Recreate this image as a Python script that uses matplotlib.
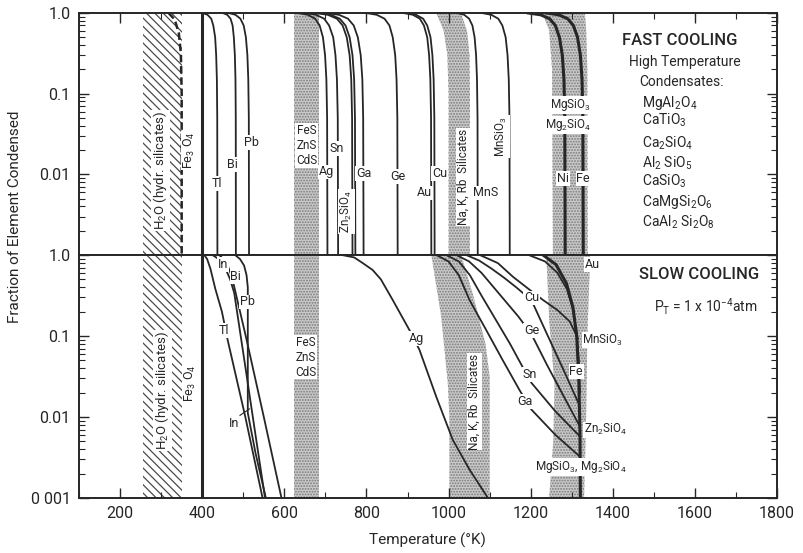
import numpy as np
import matplotlib
matplotlib.use("Agg")
import matplotlib.pyplot as plt
from matplotlib.ticker import MultipleLocator, LogLocator, NullFormatter

plt.rcParams['font.family'] = ['Roboto', 'DejaVu Sans']
plt.rcParams['mathtext.default'] = 'regular'
plt.rcParams['hatch.linewidth'] = 0.9

INK = '#262626'
STIPPLE_FC = '#cacaca'
STIPPLE_EC = '#7a7a7a'

# ---------------- fast cooling: temperatures (K) at fixed condensed fractions
FAST_LEVELS = [1.0, 0.95, 0.85, 0.7, 0.5, 0.3, 0.15, 0.05, 0.001]
fast_Tl = [401, 413, 422, 427, 431.5, 434, 435.7, 436.6, 437]
fast_Bi = [450, 461, 469, 474, 477, 479.5, 481, 481.7, 482]
fast_Pb = [464, 481, 493, 501, 506.4, 510, 512.2, 513.5, 514]
fast_Ag = [633, 657, 675, 686, 694, 699.2, 702.4, 704.2, 705]
fast_Sn = [650, 677, 697, 709, 719, 724.5, 728.1, 730.1, 731]
fast_Zn2SiO4_a = [676, 706, 728, 742, 752, 759, 763, 765, 766]
fast_Zn2SiO4_b = [683, 713, 735, 749, 759, 766, 770, 772, 773]
fast_Ga = [703, 733, 755, 769, 779, 786, 790, 792, 793]
fast_Ge = [799, 825, 844, 856, 864, 870, 873.3, 875.2, 876]
fast_Au = [890, 913, 930, 940, 948, 952.6, 955.6, 957.3, 958]
fast_Cu = [898, 921, 938, 948, 956, 960.6, 963.6, 965.3, 966]
fast_MnS = [1021, 1038, 1050, 1058, 1063.4, 1067, 1069.2, 1070.5, 1071]
fast_MnSiO3 = [1081, 1104, 1121, 1131, 1139, 1143.6, 1146.6, 1148.3, 1149]
fast_Ni = [1194, 1224, 1246, 1260, 1270, 1277, 1281, 1283, 1284]
fast_Fe = [1238, 1268, 1290, 1304, 1314, 1321, 1325, 1327, 1328]

fast_thin = [fast_Tl, fast_Bi, fast_Pb, fast_Ag, fast_Sn, fast_Zn2SiO4_a,
             fast_Zn2SiO4_b, fast_Ga, fast_Ge, fast_Au, fast_Cu, fast_MnS,
             fast_MnSiO3]
fast_thick = [fast_Ni, fast_Fe]

FE3O4_T = 400
# water (hydrated silicates) front, fast cooling
h2o_T = [318, 333, 343, 348, 350, 350]
h2o_log = [0, -0.08, -0.25, -0.5, -1.0, -3.0]

# ---------------- slow cooling: (T in K, log10 fraction condensed)
slow_Tl = ([405, 412, 420, 432, 448, 462, 505, 547],
           [0, -0.05, -0.17, -0.42, -0.70, -1.05, -2.0, -3.0])
slow_In = ([425, 440, 455, 468, 478, 505, 530, 553],
           [0, -0.05, -0.15, -0.30, -0.47, -1.38, -2.23, -3.0])
slow_Bi = ([441, 452, 462, 470, 476, 506, 550, 593],
           [0, -0.05, -0.13, -0.24, -0.35, -1.0, -2.0, -3.0])
slow_Pb = ([480, 492, 502, 508, 511, 511, 530, 555],
           [0, -0.05, -0.13, -0.25, -0.40, -1.95, -2.45, -3.0])
slow_Ag = ([740, 770, 791, 815, 835, 864, 905, 929, 970, 1010, 1051, 1096],
           [0, -0.03, -0.10, -0.185, -0.30, -0.556, -0.93, -1.17, -1.75,
            -2.28, -2.65, -3.0])
slow_Ga = ([970, 1000, 1025, 1051, 1092, 1132, 1173, 1202, 1260, 1320],
           [0, -0.08, -0.25, -0.556, -0.93, -1.30, -1.67, -1.91, -2.22, -2.49])
slow_Sn = ([994, 1025, 1052, 1080, 1115, 1150, 1180, 1202, 1260, 1320],
           [0, -0.08, -0.25, -0.50, -0.80, -1.10, -1.38, -1.58, -1.93, -2.24])
slow_Ge = ([1019, 1050, 1080, 1110, 1140, 1170, 1202, 1240, 1280, 1320],
           [0, -0.08, -0.22, -0.40, -0.58, -0.76, -0.98, -1.36, -1.74, -2.12])
slow_Cu = ([1043, 1075, 1105, 1135, 1165, 1202, 1240, 1280, 1320],
           [0, -0.07, -0.17, -0.28, -0.40, -0.56, -0.98, -1.42, -1.87])
slow_MnSiO3 = ([1076, 1120, 1157, 1195, 1230, 1265, 1295, 1315],
               [0, -0.10, -0.27, -0.42, -0.556, -0.68, -0.82, -1.03])
slow_Au = ([1195, 1235, 1265, 1288, 1302, 1312, 1317, 1320],
           [0, -0.08, -0.22, -0.42, -0.65, -0.95, -1.3, -1.7])
slow_Fe = ([1230, 1262, 1287, 1303, 1312, 1317, 1320, 1321],
           [0, -0.12, -0.35, -0.65, -1.0, -1.5, -2.2, -3.0])

slow_thin = [slow_Tl, slow_In, slow_Bi, slow_Pb, slow_Ag, slow_Ga, slow_Sn,
             slow_Ge, slow_Cu, slow_MnSiO3, slow_Au]
slow_thick = [slow_Fe]

# ---------------- shaded condensate zones
H2O_BAND = (255, 350)
SULFIDE_BAND = (624, 685)
# polygons: left edge (T, log f) top->bottom, right edge (T, log f) bottom->top
fast_alkali_band = [(970, 0), (988, -0.22), (997, -0.52), (1000, -1.0), (1000, -3),
                    (1052, -3), (1052, -1.0), (1051, -0.52), (1045, -0.22), (1030, 0)]
fast_silicate_band = [(1228, 0), (1245, -0.22), (1252, -0.7), (1254, -3),
                      (1339, -3), (1338, -0.7), (1335, -0.2), (1332, 0)]
slow_alkali_band = [(958, 0), (982, -0.76), (998, -1.58), (1002, -2.0), (1002, -3),
                    (1100, -3), (1100, -1.5), (1090, -1.1), (1060, -0.5), (1031, 0)]
slow_silicate_band = [(1238, 0), (1245, -0.8), (1258, -1.6), (1255, -2.3), (1245, -3),
                      (1330, -3), (1335, -2.0), (1338, -1.0), (1345, 0)]

X_TICKS = [200, 400, 600, 800, 1000, 1200, 1400, 1600, 1800]

fig = plt.figure(figsize=(8.04, 5.53), dpi=100)
ax_top = fig.add_axes([0.0983, 0.5389, 0.8682, 0.4376])
ax_bot = fig.add_axes([0.0983, 0.0995, 0.8682, 0.4394])


def pts(logs):
    return np.power(10.0, np.asarray(logs, dtype=float))


def style_axes(ax, top):
    ax.set_xlim(100, 1800)
    ax.set_yscale('log')
    ax.set_ylim(1e-3, 1.0)
    for s in ax.spines.values():
        s.set_linewidth(1.4)
        s.set_color(INK)
    ax.xaxis.set_major_locator(MultipleLocator(200))
    ax.xaxis.set_minor_locator(MultipleLocator(100))
    ax.set_xticks(X_TICKS)
    ax.set_yticks([1.0, 0.1, 0.01, 0.001])
    if top:
        ax.set_yticklabels(['1.0', '0.1', '0.01', ''])
    else:
        ax.set_yticklabels(['1.0', '0.1', '0.01', '0 001'])
    ax.yaxis.set_minor_locator(LogLocator(base=10, subs=np.arange(2, 10)))
    ax.yaxis.set_minor_formatter(NullFormatter())
    ax.tick_params(axis='both', which='major', direction='in', length=7,
                   width=1.0, color=INK, labelsize=11.5, labelcolor=INK)
    ax.tick_params(axis='both', which='minor', direction='in', length=4,
                   width=0.8, color=INK)
    ax.tick_params(axis='y', which='both', left=True, right=True, pad=6)
    if top:
        ax.tick_params(axis='x', which='both', top=True, bottom=False,
                       labelbottom=False)
    else:
        ax.tick_params(axis='x', which='both', top=False, bottom=True, pad=6)


def hatch_band(ax, lo, hi):
    ax.axvspan(lo, hi, facecolor='none', edgecolor='#4a4a4a', hatch='\\\\\\\\',
               linewidth=0, zorder=1)


def stipple_rect(ax, lo, hi):
    ax.axvspan(lo, hi, facecolor=STIPPLE_FC, edgecolor=STIPPLE_EC,
               hatch='......', linewidth=0, zorder=1)


def stipple_poly(ax, poly):
    T = [p[0] for p in poly]
    f = pts([p[1] for p in poly])
    ax.fill(T, f, facecolor=STIPPLE_FC, edgecolor=STIPPLE_EC, hatch='......',
            linewidth=0, zorder=1)


def label(ax, text, T, logf, size=9, rot=0, ha='center', box=True, weight='normal'):
    kw = dict(fontsize=size, rotation=rot, ha=ha, va='center', color=INK,
              zorder=6, fontweight=weight)
    if box:
        kw['bbox'] = dict(facecolor='white', edgecolor='none', pad=0.6)
    ax.text(T, 10 ** logf, text, **kw)


for ax, top in ((ax_top, True), (ax_bot, False)):
    style_axes(ax, top)

# ---- fast cooling panel
hatch_band(ax_top, *H2O_BAND)
stipple_rect(ax_top, *SULFIDE_BAND)
stipple_poly(ax_top, fast_alkali_band)
stipple_poly(ax_top, fast_silicate_band)

ax_top.plot([FE3O4_T, FE3O4_T], [1e-3, 1.0], color=INK, lw=2.2, zorder=3)
ax_top.plot(h2o_T, pts(h2o_log), color=INK, lw=1.8, ls=(0, (3, 1.5)), zorder=3)
for T in fast_thin:
    ax_top.plot(T, FAST_LEVELS, color=INK, lw=1.3, zorder=3,
                solid_joinstyle='round')
for T in fast_thick:
    ax_top.plot(T, FAST_LEVELS, color=INK, lw=2.2, zorder=3,
                solid_joinstyle='round')

label(ax_top, r'H$_2$O (hydr. silicates)', 298, -1.95, size=9.5, rot=90)
label(ax_top, r'Fe$_3$ O$_4$', 370, -1.70, size=9, rot=90)
label(ax_top, 'Tl', 437, -2.11)
label(ax_top, 'Bi', 474, -1.88)
label(ax_top, 'Pb', 519, -1.61)
label(ax_top, 'FeS\nZnS\nCdS', 655, -1.64, size=8.5)
label(ax_top, 'Ag', 702, -1.97)
label(ax_top, 'Sn', 728, -1.68)
label(ax_top, r'Zn$_2$SiO$_4$', 752, -2.46, size=8.5, rot=90)
label(ax_top, 'Ga', 793, -1.99)
label(ax_top, 'Ge', 876, -2.03)
label(ax_top, 'Cu', 978, -1.99)
label(ax_top, 'Au', 941, -2.23)
label(ax_top, 'Na, K, Rb  Silicates', 1035, -2.03, size=8.5, rot=90)
label(ax_top, 'MnS', 1090, -2.23)
label(ax_top, r'MnSiO$_3$', 1128, -1.53, size=8.5, rot=90)
label(ax_top, r'MgSiO$_3$', 1297, -1.14, size=8.5)
label(ax_top, r'Mg$_2$SiO$_4$', 1292, -1.39, size=8.5)
label(ax_top, 'Ni', 1279, -2.05)
label(ax_top, 'Fe', 1328, -2.05)

label(ax_top, 'FAST COOLING', 1563, -0.335, size=12, box=False, weight='medium')
label(ax_top, 'High Temperature', 1576, -0.607, size=10, box=False)
label(ax_top, 'Condensates:', 1568, -0.855, size=10, box=False)
high_T_condensates = [r'MgAl$_2$O$_4$', r'CaTiO$_3$', r'Ca$_2$SiO$_4$',
                      r'Al$_2$ SiO$_5$', r'CaSiO$_3$', r'CaMgSi$_2$O$_6$',
                      r'CaAl$_2$ Si$_2$O$_8$']
cond_logs = [-1.115, -1.326, -1.61, -1.86, -2.09, -2.34, -2.59]
for txt, lg in zip(high_T_condensates, cond_logs):
    label(ax_top, txt, 1470, lg, size=10, ha='left', box=False)

# ---- slow cooling panel
hatch_band(ax_bot, *H2O_BAND)
stipple_rect(ax_bot, *SULFIDE_BAND)
stipple_poly(ax_bot, slow_alkali_band)
stipple_poly(ax_bot, slow_silicate_band)

ax_bot.plot([FE3O4_T, FE3O4_T], [1e-3, 1.0], color=INK, lw=2.2, zorder=3)
for T, lg in slow_thin:
    ax_bot.plot(T, pts(lg), color=INK, lw=1.3, zorder=3, solid_joinstyle='round')
for T, lg in slow_thick:
    ax_bot.plot(T, pts(lg), color=INK, lw=2.2, zorder=3, solid_joinstyle='round')

label(ax_bot, r'H$_2$O (hydr. silicates)', 303, -1.67, size=9.5, rot=90)
label(ax_bot, r'Fe$_3$ O$_4$', 372, -1.58, size=9, rot=90)
label(ax_bot, 'In', 450, -0.12)
label(ax_bot, 'Bi', 482, -0.27)
label(ax_bot, 'Pb', 510, -0.58)
label(ax_bot, 'Tl', 454, -0.93)
label(ax_bot, 'In', 478, -2.08, box=False)
ax_bot.plot([492, 515], [10 ** -1.98, 10 ** -1.9], color=INK, lw=0.8, zorder=5)
label(ax_bot, 'FeS\nZnS\nCdS', 652, -1.26, size=8.5)
label(ax_bot, 'Ag', 921, -1.03)
label(ax_bot, 'Na, K, Rb  Silicates', 1063, -1.81, size=8.5, rot=90)
label(ax_bot, 'Cu', 1202, -0.53)
label(ax_bot, 'Ge', 1202, -0.93)
label(ax_bot, 'Sn', 1198, -1.48)
label(ax_bot, 'Ga', 1185, -1.81)
label(ax_bot, 'Au', 1351, -0.12)
label(ax_bot, 'Fe', 1311, -1.44)
label(ax_bot, r'MnSiO$_3$', 1326, -1.05, size=8.5, ha='left')
label(ax_bot, r'Zn$_2$SiO$_4$', 1330, -2.16, size=8.5, ha='left')
label(ax_bot, r'MgSiO$_3$, Mg$_2$SiO$_4$', 1322, -2.62, size=8.5)

label(ax_bot, 'SLOW COOLING', 1610, -0.247, size=12, box=False, weight='medium')
label(ax_bot, r'P$_T$ = 1 x 10$^{-4}$atm', 1627, -0.64, size=10, box=False)

fig.text(0.019, 1 - 217 / 553, 'Fraction of Element Condensed', rotation=90,
         ha='center', va='center', fontsize=11, color=INK)
fig.text(0.532, 0.022, 'Temperature (°K)', ha='center', va='center',
         fontsize=11, color=INK)

fig.savefig('out.png', dpi=100, facecolor='white')
